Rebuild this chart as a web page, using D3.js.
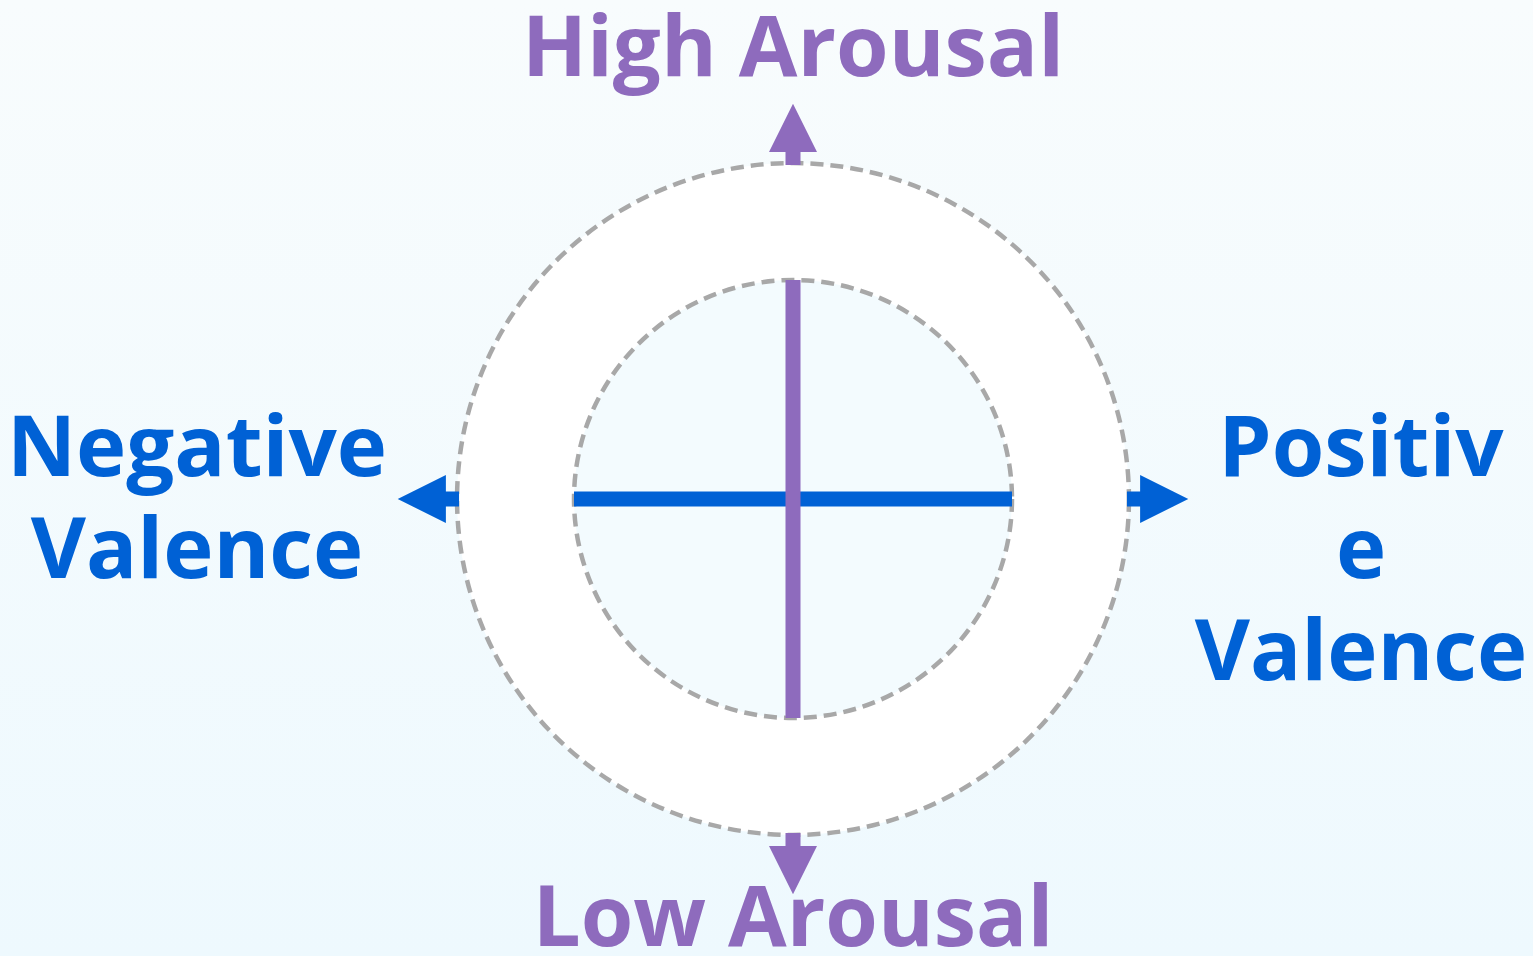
<!DOCTYPE html>
<html>
<head>
<meta charset="utf-8">
<script src="https://cdn.jsdelivr.net/npm/d3@7"></script>
<style>
  html, body { margin: 0; padding: 0; overflow: hidden; }
  svg { display: block; }
  text { font-family: "Open Sans", "Noto Sans", sans-serif; font-weight: 700; }
</style>
</head>
<body>
<div id="chart"></div>
<script>
// circumplex values, in axis units (1 = inner ring)
var axisExtent = [-1, 1]
var ringRadii = [1, 1.534]
var arrowDirs = ["up", "down", "left", "right"]
var arrowBase = 1.534, arrowNeck = 1.585, arrowTip = 1.805

// labels, one entry per line
var topLabel = ["High Arousal"]
var bottomLabel = ["Low Arousal"]
var leftLabel = ["Negative", "Valence"]
var rightLabel = ["Positiv", "e", "Valence"]

var blue = "#0061d5", purple = "#8e6bbd"

var width = 1533, height = 956
var cx = 793, cy = 499, inner = 219

var svg = d3.select("#chart").append("svg")
    .attr("width", width).attr("height", height)

var defs = svg.append("defs")
var grad = defs.append("linearGradient").attr("id", "bg")
    .attr("x1", 0).attr("y1", 0).attr("x2", 0).attr("y2", 1)
grad.append("stop").attr("offset", "0%").attr("stop-color", "#f8fcfd")
grad.append("stop").attr("offset", "100%").attr("stop-color", "#eef9fe")

svg.append("rect").attr("width", width).attr("height", height).attr("fill", "url(#bg)")

// scales: x = valence, y = arousal
var x = d3.scaleLinear().domain(axisExtent).range([cx - inner, cx + inner])
var y = d3.scaleLinear().domain(axisExtent).range([cy + inner, cy - inner])
var r = d3.scaleLinear().domain([0, 1]).range([0, inner])

// rings, outer first so the inner one sits on top
svg.selectAll("circle.ring")
    .data(ringRadii.slice().reverse())
  .enter().append("circle")
    .attr("class", "ring")
    .attr("cx", x(0)).attr("cy", y(0))
    .attr("r", function(d) { return r(d) })
    .attr("fill", function(d, i) { return i == 0 ? "#ffffff" : "#f3fbfe" })
    .attr("stroke", "#a8a8a8")
    .attr("stroke-width", 4.5)
    .attr("stroke-dasharray", "13,7")

// axes
svg.append("line")
    .attr("x1", x(axisExtent[0])).attr("x2", x(axisExtent[1]))
    .attr("y1", y(0)).attr("y2", y(0))
    .attr("stroke", blue).attr("stroke-width", 15)

svg.append("line")
    .attr("x1", x(0)).attr("x2", x(0))
    .attr("y1", y(axisExtent[0])).attr("y2", y(axisExtent[1]))
    .attr("stroke", purple).attr("stroke-width", 15)

// arrows pointing out of the outer ring
function arrowPath(dir) {
    var shaft = 7.5, head = 24
    // local coords: along = distance from centre, across = sideways
    var pts = [
        [r(arrowBase) - 2, -shaft], [r(arrowNeck), -shaft], [r(arrowNeck), -head],
        [r(arrowTip), 0],
        [r(arrowNeck), head], [r(arrowNeck), shaft], [r(arrowBase) - 2, shaft]
    ]
    var map = {
        up: function(p) { return [cx + p[1], cy - p[0]] },
        down: function(p) { return [cx + p[1], cy + p[0]] },
        left: function(p) { return [cx - p[0], cy + p[1]] },
        right: function(p) { return [cx + p[0], cy + p[1]] }
    }
    return d3.line()(pts.map(map[dir])) + "Z"
}

svg.selectAll("path.arrow")
    .data(arrowDirs)
  .enter().append("path")
    .attr("class", "arrow")
    .attr("d", arrowPath)
    .attr("fill", function(d) { return d == "up" || d == "down" ? purple : blue })

// labels
function label(lines, tx, ty, color) {
    var t = svg.append("text")
        .attr("text-anchor", "middle")
        .attr("font-size", 85)
        .attr("fill", color)
    t.selectAll("tspan")
        .data(lines)
      .enter().append("tspan")
        .attr("x", tx)
        .attr("y", function(d, i) { return ty + i * 102 })
        .text(function(d) { return d })
}

label(topLabel, cx, 76, purple)
label(bottomLabel, cx, 946, purple)
label(leftLabel, 197, 476, blue)
label(rightLabel, 1361, 476, blue)
</script>
</body>
</html>
